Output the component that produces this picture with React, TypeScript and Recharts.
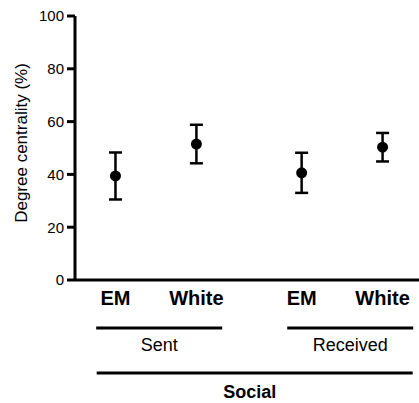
import React from 'react'
import { ComposedChart, Scatter, ErrorBar, XAxis, YAxis } from 'recharts'

document.body.style.margin = '0'

const categories = ['EM', 'White', 'EM', 'White']
const xPositions = [1, 2, 3.3, 4.3]
const means = [39.4, 51.5, 40.6, 50.3]
const errors = [8.9, 7.3, 7.6, 5.4]

const groupNames = ['Sent', 'Received']
const groupCenters = [1.54, 3.9]
const groupHalfWidths = [63, 63]

const outerNames = ['Social']
const outerCenters = [2.72]
const outerHalfWidths = [158]

const yTicks = [0, 20, 40, 60, 80, 100]

const FONT = 'Arial, "Liberation Sans", Helvetica, sans-serif'

const data = xPositions.map((x, i) => ({
  x,
  y: means[i],
  err: [errors[i], errors[i]],
}))

const Dot = (props: any) => <circle cx={props.cx} cy={props.cy} r={5.5} fill="#000" />

const CategoryTick = ({ x, y, index }: any) => (
  <text x={x} y={y + 25} textAnchor="middle" fontSize={20} fontWeight="bold" fontFamily={FONT} fill="#000">
    {categories[index]}
  </text>
)

const GroupTick = ({ x, y, index }: any) => (
  <g>
    <line x1={x - groupHalfWidths[index]} x2={x + groupHalfWidths[index]} y1={y + 8} y2={y + 8} stroke="#000" strokeWidth={3} />
    <text x={x} y={y + 31} textAnchor="middle" fontSize={18} fontFamily={FONT} fill="#000">
      {groupNames[index]}
    </text>
  </g>
)

const OuterTick = ({ x, y, index }: any) => (
  <g>
    <line x1={x - outerHalfWidths[index]} x2={x + outerHalfWidths[index]} y1={y + 11} y2={y + 11} stroke="#000" strokeWidth={3} />
    <text x={x - 5} y={y + 36} textAnchor="middle" fontSize={18} fontWeight="bold" fontFamily={FONT} fill="#000">
      {outerNames[index]}
    </text>
  </g>
)

const YLabel = ({ viewBox }: any) => {
  const cx = viewBox.x + 21
  const cy = viewBox.y + viewBox.height / 2 - 5
  return (
    <text
      x={cx}
      y={cy}
      transform={`rotate(-90, ${cx}, ${cy})`}
      textAnchor="middle"
      dominantBaseline="central"
      fontSize={17}
      fontFamily={FONT}
      fill="#000"
    >
      Degree centrality (%)
    </text>
  )
}

const xDomain = [0.5, 4.75]

export default function App() {
  return (
    <div style={{ width: 419, height: 403, background: '#fff' }}>
      <ComposedChart width={419} height={403} data={data} margin={{ top: 16, right: 0, bottom: 0, left: 0 }}>
        <XAxis
          xAxisId="a"
          dataKey="x"
          type="number"
          domain={xDomain}
          ticks={xPositions}
          interval={0}
          height={40}
          tickSize={0}
          tickMargin={0}
          tickLine={false}
          axisLine={{ stroke: '#000', strokeWidth: 3 }}
          tick={<CategoryTick />}
          allowDataOverflow
        />
        <XAxis
          xAxisId="b"
          dataKey="x"
          type="number"
          domain={xDomain}
          ticks={groupCenters}
          interval={0}
          height={42}
          tickSize={0}
          tickMargin={0}
          tickLine={false}
          axisLine={false}
          tick={<GroupTick />}
          allowDataOverflow
        />
        <XAxis
          xAxisId="c"
          dataKey="x"
          type="number"
          domain={xDomain}
          ticks={outerCenters}
          interval={0}
          height={41}
          tickSize={0}
          tickMargin={0}
          tickLine={false}
          axisLine={false}
          tick={<OuterTick />}
          allowDataOverflow
        />
        <YAxis
          dataKey="y"
          type="number"
          domain={[0, 100]}
          ticks={yTicks}
          width={75}
          tickSize={8}
          tickMargin={3}
          axisLine={{ stroke: '#000', strokeWidth: 3 }}
          tickLine={{ stroke: '#000', strokeWidth: 3 }}
          tick={{ fontSize: 15, fill: '#000', fontFamily: FONT }}
          label={{ content: <YLabel /> }}
        />
        <Scatter xAxisId="a" dataKey="y" shape={<Dot />} isAnimationActive={false}>
          <ErrorBar dataKey="err" direction="y" width={6.5} stroke="#000" strokeWidth={2.5} />
        </Scatter>
      </ComposedChart>
    </div>
  )
}
